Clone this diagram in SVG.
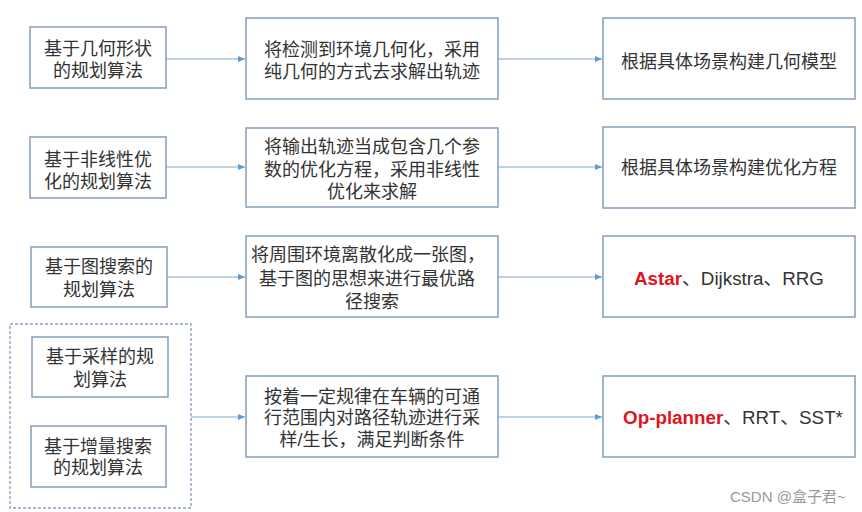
<svg xmlns="http://www.w3.org/2000/svg" width="862" height="512" viewBox="0 0 862 512">
<style>
.box{fill:#fff;stroke:#8aa3c4;stroke-width:1.6}
.dash{fill:none;stroke:#8aa3c4;stroke-width:1.4;stroke-dasharray:3 2}
.t{font-family:"Liberation Sans","Noto Sans CJK SC",sans-serif;font-size:18px;fill:#333;text-anchor:middle;dominant-baseline:central}
.l{font-size:18.8px}
.r{fill:#e0141e;font-weight:bold}
.c{fill:none;stroke:#7ea7d6;stroke-width:1.2}
.wm{font-family:"Liberation Sans","Noto Sans CJK SC",sans-serif;font-size:15px;fill:#999;dominant-baseline:central}
</style>
<defs>
<marker id="ah" markerWidth="8" markerHeight="8" refX="7" refY="4" orient="auto" markerUnits="userSpaceOnUse">
<path d="M0,1 L7,4 L0,7 Z" fill="#5b9bd5"/>
</marker>
</defs>
<rect width="862" height="512" fill="#fff"/>
<g id="connectors">
<path class="c" d="M166,59 H245" marker-end="url(#ah)"/>
<path class="c" d="M498,59 H602" marker-end="url(#ah)"/>
<path class="c" d="M166,167 H245" marker-end="url(#ah)"/>
<path class="c" d="M498,167 H602" marker-end="url(#ah)"/>
<path class="c" d="M167,277 H245" marker-end="url(#ah)"/>
<path class="c" d="M498,277 H602" marker-end="url(#ah)"/>
<path class="c" d="M191,417 H245" marker-end="url(#ah)"/>
<path class="c" d="M498,417 H602" marker-end="url(#ah)"/>
</g>
<g id="n1a"><rect class="box" x="30" y="27" width="136" height="61"/>
<text class="t" x="98" y="49">基于几何形状</text><text class="t" x="98" y="71">的规划算法</text></g>
<g id="n1b"><rect class="box" x="246" y="18" width="252" height="81"/>
<text class="t" x="372" y="50">将检测到环境几何化，采用</text><text class="t" x="372" y="72">纯几何的方式去求解出轨迹</text></g>
<g id="n1c"><rect class="box" x="603" y="18" width="252" height="81"/>
<text class="t" x="729" y="62">根据具体场景构建几何模型</text></g>

<g id="n2a"><rect class="box" x="30" y="137" width="136" height="61"/>
<text class="t" x="98" y="160">基于非线性优</text><text class="t" x="98" y="182">化的规划算法</text></g>
<g id="n2b"><rect class="box" x="246" y="128" width="252" height="79"/>
<text class="t" x="372" y="147">将输出轨迹当成包含几个参</text><text class="t" x="372" y="170">数的优化方程，采用非线性</text><text class="t" x="372" y="192">优化来求解</text></g>
<g id="n2c"><rect class="box" x="603" y="127" width="252" height="81"/>
<text class="t" x="729" y="168">根据具体场景构建优化方程</text></g>

<g id="n3a"><rect class="box" x="31" y="247" width="136" height="60"/>
<text class="t" x="99" y="267">基于图搜索的</text><text class="t" x="99" y="290">规划算法</text></g>
<g id="n3b"><rect class="box" x="246" y="236" width="252" height="81"/>
<text class="t" x="368" y="255">将周围环境离散化成一张图，</text><text class="t" x="367" y="279">基于图的思想来进行最优路</text><text class="t" x="372" y="302">径搜索</text></g>
<g id="n3c"><rect class="box" x="603" y="236" width="252" height="81"/>
<text class="t l" x="729" y="278"><tspan class="r">Astar</tspan>、Dijkstra、RRG</text></g>

<g id="group4"><rect class="dash" x="10" y="324" width="181" height="184"/>
<g id="n4a"><rect class="box" x="32" y="337" width="136" height="60"/>
<text class="t" x="100" y="357">基于采样的规</text><text class="t" x="100" y="380">划算法</text></g>
<g id="n4b"><rect class="box" x="31" y="426" width="135" height="61"/>
<text class="t" x="98" y="447">基于增量搜索</text><text class="t" x="98" y="468">的规划算法</text></g>
</g>
<g id="n4c"><rect class="box" x="246" y="376" width="252" height="81"/>
<text class="t" x="372" y="397">按着一定规律在车辆的可通</text><text class="t" x="372" y="418">行范围内对路径轨迹进行采</text><text class="t" x="372" y="440">样/生长，满足判断条件</text></g>
<g id="n4d"><rect class="box" x="603" y="376" width="252" height="81"/>
<text class="t l" x="733" y="417"><tspan class="r">Op-planner</tspan>、RRT、SST*</text></g>
<text class="wm" x="730" y="496">CSDN @盒子君~</text>
</svg>
